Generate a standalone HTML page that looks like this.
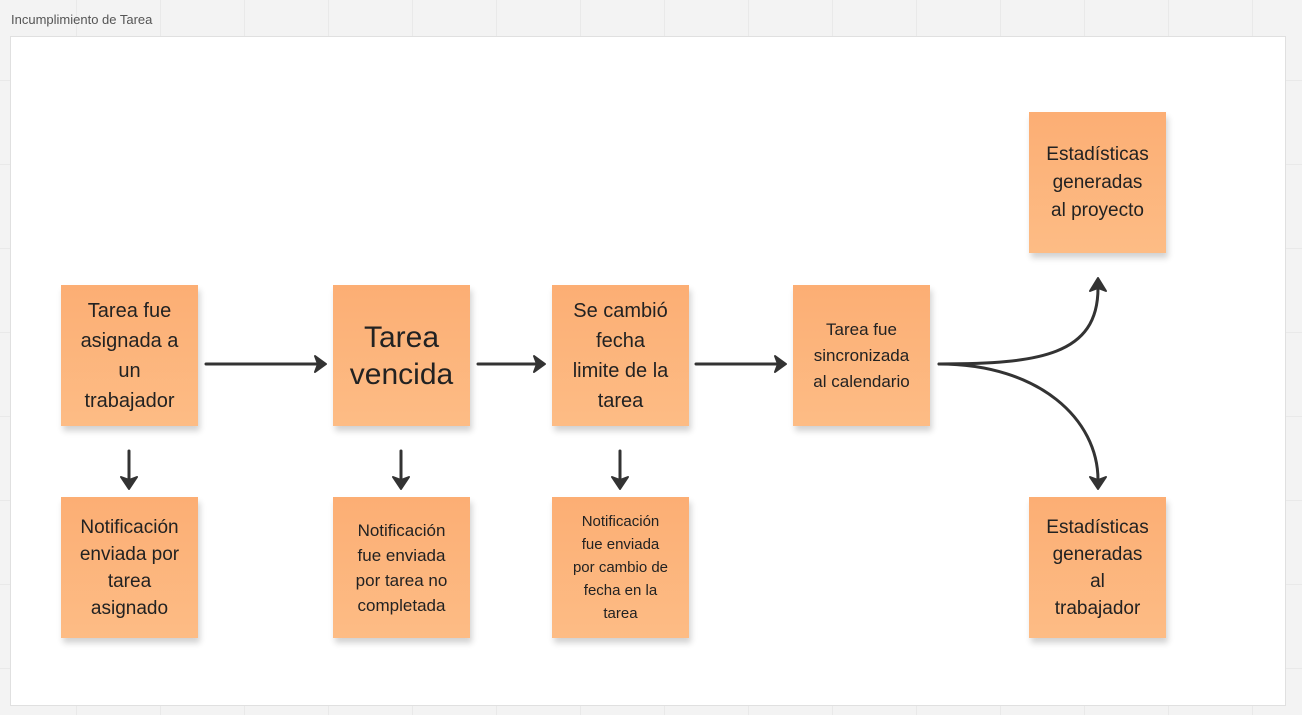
<!DOCTYPE html>
<html><head><meta charset="utf-8"><style>
body{margin:0;width:1302px;height:715px;overflow:hidden;background:#f3f3f3;
background-image:linear-gradient(#e9e9e9 1px,transparent 1px),linear-gradient(90deg,#e9e9e9 1px,transparent 1px);background-size:84px 84px;background-position:-8px -4px;font-family:"Liberation Sans","DejaVu Sans",sans-serif;position:relative}
.title{position:absolute;left:11px;top:12px;font-size:13px;color:#555}
.frame{position:absolute;left:10px;top:36px;width:1274px;height:668px;background:#fff;border:1px solid #e0e0e0}
.n{position:absolute;width:137px;height:141px;background:linear-gradient(#fcae74,#fdbc85);box-shadow:2px 5px 6px rgba(0,0,0,.18);display:flex;align-items:center;justify-content:center;text-align:center;color:#222;box-sizing:border-box;padding:0 2px;white-space:nowrap}
</style></head><body>
<div class="title">Incumplimiento de Tarea</div>
<div class="frame"></div>
<div class="n" style="left:61px;top:285px;font-size:20px;line-height:30px">Tarea fue<br>asignada a<br>un<br>trabajador</div>
<div class="n" style="left:333px;top:285px;font-size:30px;line-height:37px">Tarea<br>vencida</div>
<div class="n" style="left:552px;top:285px;font-size:20px;line-height:30px">Se cambió<br>fecha<br>limite de la<br>tarea</div>
<div class="n" style="left:793px;top:285px;font-size:17px;line-height:26px">Tarea fue<br>sincronizada<br>al calendario</div>
<div class="n" style="left:1029px;top:112px;font-size:19px;line-height:28px">Estadísticas<br>generadas<br>al proyecto</div>
<div class="n" style="left:61px;top:497px;font-size:19px;line-height:27px">Notificación<br>enviada por<br>tarea<br>asignado</div>
<div class="n" style="left:333px;top:497px;font-size:17px;line-height:25px">Notificación<br>fue enviada<br>por tarea no<br>completada</div>
<div class="n" style="left:552px;top:497px;font-size:15px;line-height:23px">Notificación<br>fue enviada<br>por cambio de<br>fecha en la<br>tarea</div>
<div class="n" style="left:1029px;top:497px;font-size:19px;line-height:27px">Estadísticas<br>generadas<br>al<br>trabajador</div>
<svg width="1302" height="715" style="position:absolute;left:0;top:0" fill="none" stroke="#333" stroke-width="3" stroke-linecap="round" stroke-linejoin="round">
<path d="M206 364H318M478 364H537M696 364H778M129 451V480M401 451V480M620 451V480"/>
<path d="M939 364C1040 364 1098 355 1098 288"/>
<path d="M939 364C1040 364 1098 420 1098 480"/>
<g fill="#333" stroke-width="2">
<path d="M315 356L326 364L315 372L318 364Z"/>
<path d="M534 356L545 364L534 372L537 364Z"/>
<path d="M775 356L786 364L775 372L778 364Z"/>
<path d="M121 477L129 489L137 477L129 480Z"/>
<path d="M393 477L401 489L409 477L401 480Z"/>
<path d="M612 477L620 489L628 477L620 480Z"/>
<path d="M1090 291L1098 278L1106 291L1098 288Z"/>
<path d="M1090 477L1098 489L1106 477L1098 480Z"/>
</g>
</svg>
</body></html>
